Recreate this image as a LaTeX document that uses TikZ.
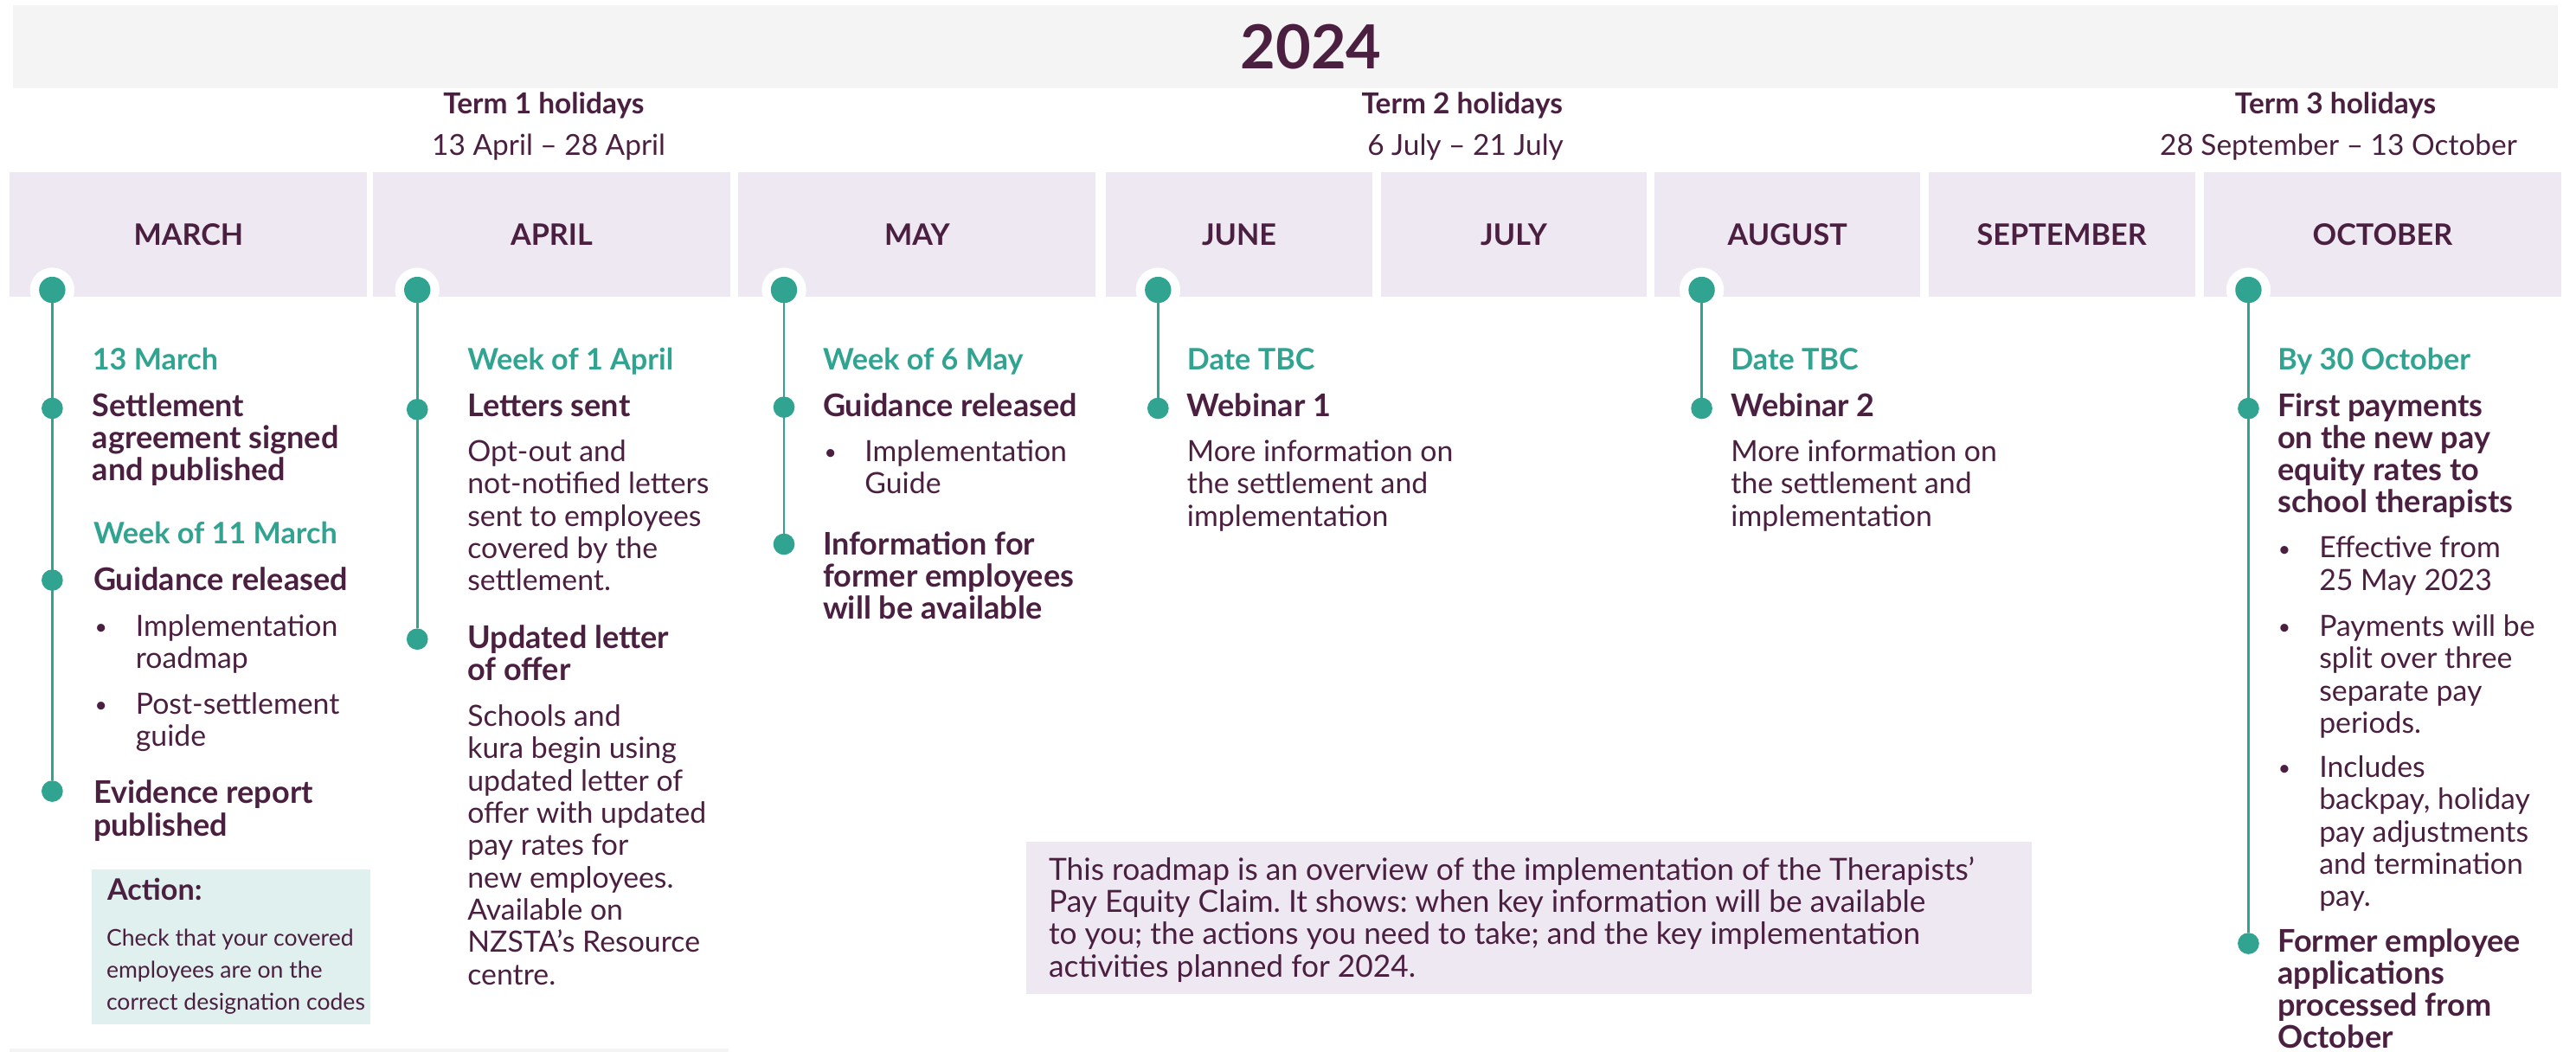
\documentclass[tikz,border=0pt]{standalone}
\usepackage{fontspec}
\setmainfont{Lato}
\frenchspacing
\definecolor{rmplum}{HTML}{4A1F40}
\definecolor{rmteal}{HTML}{30A391}
\definecolor{rmlav}{HTML}{EDE8F2}
\definecolor{rmgrey}{HTML}{F4F4F4}
\definecolor{rmmint}{HTML}{E0F0EE}
% lines hang from the baseline of the first one
\newcommand{\txtlines}[1]{\vtop{\let\\\cr\halign{##\hfil\cr#1\crcr}}}
\tikzset{
  monthbox/.style={rectangle,fill=rmlav,minimum height=37.85pt,inner sep=0pt,text=rmplum,font=\bfseries\fontsize{9}{10}\selectfont},
  termhd/.style={anchor=base,inner sep=0pt,text=rmplum,font=\bfseries\fontsize{8.8}{10}\selectfont},
  termdt/.style={anchor=base,inner sep=0pt,text=rmplum,font=\fontsize{8.8}{10}\selectfont},
  datehd/.style={anchor=base west,inner sep=0pt,text=rmteal,font=\bfseries\fontsize{9}{9.75}\selectfont},
  itemhd/.style={anchor=base west,inner sep=0pt,text=rmplum,font=\bfseries\fontsize{9.5}{9.75}\selectfont},
  bodytxt/.style={anchor=base west,inner sep=0pt,text=rmplum,font=\fontsize{8.9}{9.83}\selectfont},
  bullet/.style={anchor=base,inner sep=0pt,text=rmplum,font=\fontsize{6.5}{9.83}\selectfont},
  smalltxt/.style={anchor=base west,inner sep=0pt,text=rmplum,font=\fontsize{7}{9.83}\selectfont},
  topdot/.style={circle,fill=rmteal,inner sep=0pt,outer sep=0pt,minimum size=8pt,preaction={draw=white,line width=5.5pt}},
  dot/.style={circle,fill=rmteal,inner sep=0pt,outer sep=0pt,minimum size=6.5pt},
  tline/.style={draw=rmteal,line width=0.75pt}
}
\begin{document}
\begin{tikzpicture}[x=0.5pt,y=-0.5pt]
  \useasboundingbox (0,0) rectangle (1568,640);
  % year banner
  \fill[rmgrey] (8,3.2) rectangle (1557,53.6);
  \node[anchor=base,inner sep=0pt,text=rmplum,font=\bfseries\fontsize{18.5}{20}\selectfont] (yr) at (798,42.1) {2024};
  % school holidays
  \node[termhd] (t1) at (331,69.4) {Term 1 holidays};
  \node[termdt] (t1d) at (334,94.8) {13 April – 28 April};
  \node[termhd] (t2) at (890,69.4) {Term 2 holidays};
  \node[termdt] (t2d) at (892,94.8) {6 July – 21 July};
  \node[termhd] (t3) at (1421.6,69.4) {Term 3 holidays};
  \node[termdt] (t3d) at (1423.4,94.8) {28 September – 13 October};
  % months
  \node[monthbox,minimum width=108.75pt] (mMar) at (114.75,142.65) {MARCH};
  \node[monthbox,minimum width=108.75pt] (mApr) at (335.75,142.65) {APRIL};
  \node[monthbox,minimum width=108.75pt] (mMay) at (558.25,142.65) {MAY};
  \node[monthbox,minimum width=81.25pt] (mJun) at (754.25,142.65) {JUNE};
  \node[monthbox,minimum width=81pt] (mJul) at (921.5,142.65) {JULY};
  \node[monthbox,minimum width=81pt] (mAug) at (1088,142.65) {AUGUST};
  \node[monthbox,minimum width=81pt] (mSep) at (1255,142.65) {SEPTEMBER};
  \node[monthbox,minimum width=108.75pt] (mOct) at (1450.25,142.65) {OCTOBER};
  % timeline dots
  \node[topdot] (marT) at (31.8,176.5) {};
  \node[dot] (mar1) at (31.8,248.6) {};
  \node[dot] (mar2) at (31.8,353.2) {};
  \node[dot] (mar3) at (31.8,481.7) {};
  \node[topdot] (aprT) at (254,176.5) {};
  \node[dot] (apr1) at (254,249.3) {};
  \node[dot] (apr2) at (254,389.1) {};
  \node[topdot] (mayT) at (477.2,176.5) {};
  \node[dot] (may1) at (477.2,247.9) {};
  \node[dot] (may2) at (477.2,331.3) {};
  \node[topdot] (junT) at (704.9,176.5) {};
  \node[dot] (jun1) at (704.9,248.6) {};
  \node[topdot] (augT) at (1035.8,176.5) {};
  \node[dot] (aug1) at (1035.8,248.6) {};
  \node[topdot] (octT) at (1368.6,176.5) {};
  \node[dot] (oct1) at (1368.6,248.7) {};
  \node[dot] (oct2) at (1368.6,574.4) {};
  \draw[tline] (marT) -- (mar3);
  \draw[tline] (aprT) -- (apr2);
  \draw[tline] (mayT) -- (may2);
  \draw[tline] (junT) -- (jun1);
  \draw[tline] (augT) -- (aug1);
  \draw[tline] (octT) -- (oct2);
  % March
  \node[datehd] (marD1) at (55.9,225.4) {13 March};
  \node[itemhd] (marH1) at (55.9,253.5) {\txtlines{Settlement\\agreement signed\\and published}};
  \node[datehd] (marD2) at (56.5,331.3) {Week of 11 March};
  \node[itemhd] (marH2) at (56.5,359.4) {Guidance released};
  \node[bullet] (marB1) at (61.5,386.4) {•};
  \node[bodytxt] (marI1) at (82.2,387.4) {\txtlines{Implementation\\roadmap}};
  \node[bullet] (marB2) at (61.5,433.6) {•};
  \node[bodytxt] (marI2) at (82.2,434.6) {\txtlines{Post-settlement\\guide}};
  \node[itemhd] (marH3) at (56.5,489.3) {\txtlines{Evidence report\\published}};
  \fill[rmmint] (55.9,529.2) rectangle (225.6,623.5);
  \node[anchor=base west,inner sep=0pt,text=rmplum,font=\bfseries\fontsize{9}{10}\selectfont] (act) at (65,548.3) {Action:};
  \node[smalltxt] (actT) at (64.4,575.8) {\txtlines{Check that your covered\\employees are on the\\correct designation codes}};
  % April
  \node[datehd] (aprD1) at (284.2,225.4) {Week of 1 April};
  \node[itemhd] (aprH1) at (284.2,253.5) {Letters sent};
  \node[bodytxt] (aprT1) at (284.2,281) {\txtlines{Opt-out and\\not-notified letters\\sent to employees\\covered by the\\settlement.}};
  \node[itemhd] (aprH2) at (284.2,394.7) {\txtlines{Updated letter\\of offer}};
  \node[bodytxt] (aprT2) at (284.2,442.2) {\txtlines{Schools and\\kura begin using\\updated letter of\\offer with updated\\pay rates for\\new employees.\\Available on\\NZSTA’s Resource\\centre.}};
  % May
  \node[datehd] (mayD1) at (500.5,225.4) {Week of 6 May};
  \node[itemhd] (mayH1) at (500.5,253.5) {Guidance released};
  \node[bullet] (mayB1) at (505.5,280) {•};
  \node[bodytxt] (mayI1) at (526,281) {\txtlines{Implementation\\Guide}};
  \node[itemhd] (mayH2) at (500.5,337.7) {\txtlines{Information for\\former employees\\will be available}};
  % June
  \node[datehd] (junD1) at (722.2,225.4) {Date TBC};
  \node[itemhd] (junH1) at (722.2,253.5) {Webinar 1};
  \node[bodytxt] (junT1) at (722.2,281) {\txtlines{More information on\\the settlement and\\implementation}};
  % August
  \node[datehd] (augD1) at (1053.2,225.4) {Date TBC};
  \node[itemhd] (augH1) at (1053.2,253.5) {Webinar 2};
  \node[bodytxt] (augT1) at (1053.2,281) {\txtlines{More information on\\the settlement and\\implementation}};
  % October
  \node[datehd] (octD1) at (1386,225.4) {By 30 October};
  \node[itemhd] (octH1) at (1386,253.5) {\txtlines{First payments\\on the new pay\\equity rates to\\school therapists}};
  \node[bullet] (octB1) at (1390.5,338.7) {•};
  \node[bodytxt] (octI1) at (1411.3,339.7) {\txtlines{Effective from\\25 May 2023}};
  \node[bullet] (octB2) at (1390.5,386.4) {•};
  \node[bodytxt] (octI2) at (1411.3,387.4) {\txtlines{Payments will be\\split over three\\separate pay\\periods.}};
  \node[bullet] (octB3) at (1390.5,472.3) {•};
  \node[bodytxt] (octI3) at (1411.3,473.3) {\txtlines{Includes\\backpay, holiday\\pay adjustments\\and termination\\pay.}};
  \node[itemhd] (octH2) at (1386,579.7) {\txtlines{Former employee\\applications\\processed from\\October}};
  % overview note
  \fill[rmlav] (624.7,512.6) rectangle (1236.6,605.3);
  \node[bodytxt,font=\fontsize{9.3}{9.83}\selectfont] (intro) at (638,535.7) {\txtlines{This roadmap is an overview of the implementation of the Therapists’\\Pay Equity Claim. It shows: when key information will be available\\to you; the actions you need to take; and the key implementation\\activities planned for 2024.}};
  % next section edge
  \fill[rmgrey] (5.7,638.5) rectangle (443.4,642);
\end{tikzpicture}
\end{document}
